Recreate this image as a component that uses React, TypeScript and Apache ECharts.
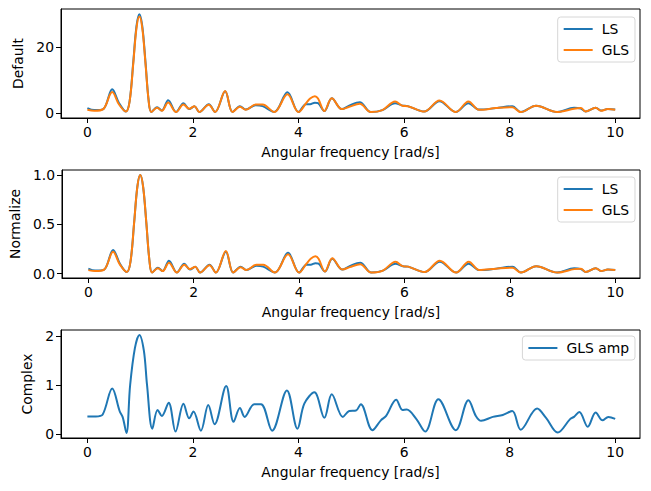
import React, { useEffect, useRef } from "react";
import * as echarts from "echarts";

// Angular frequencies (rad/s) where LS / GLS values were read
const freq = [0.0, 0.13, 0.3, 0.47, 0.6, 0.73, 0.8, 0.87, 0.93, 0.985, 1.04, 1.1, 1.16, 1.21, 1.32, 1.41, 1.53, 1.68, 1.82, 1.93, 2.03, 2.12, 2.3, 2.42, 2.61, 2.75, 2.89, 3.0, 3.19, 3.32, 3.54, 3.79, 4.0, 4.14, 4.22, 4.31, 4.37, 4.49, 4.63, 4.82, 4.96, 5.16, 5.37, 5.59, 5.83, 5.97, 6.07, 6.38, 6.67, 6.98, 7.22, 7.42, 7.74, 8.05, 8.21, 8.5, 8.9, 9.22, 9.35, 9.44, 9.63, 9.73, 9.86, 10.0];

const lsDefault = [1.5, 0.9, 1.2, 7.2, 3.0, 0.45, 3.6, 15.6, 26.4, 30.0, 26.4, 15.6, 3.9, 0.3, 1.8, 0.75, 3.9, 0.3, 3.0, 1.2, 2.1, 0.3, 2.7, 0.3, 6.6, 0.3, 2.1, 1.05, 2.4, 2.1, 0.3, 6.3, 0.3, 2.7, 2.7, 3.15, 3.0, 0.6, 4.5, 1.2, 2.25, 3.3, 0.3, 0.9, 3.0, 2.25, 2.1, 0.45, 3.6, 0.3, 3.0, 1.05, 1.5, 2.1, 0.3, 2.25, 0.3, 1.65, 1.35, 0.45, 1.65, 0.75, 1.2, 1.05];
const glsDefault = [1.0, 0.7, 1.2, 6.4, 2.6, 0.45, 3.5, 15.2, 25.8, 29.3, 25.8, 15.2, 3.8, 0.3, 1.6, 0.7, 3.2, 0.3, 2.6, 1.3, 2.1, 0.3, 2.5, 0.3, 6.7, 0.3, 1.9, 1.0, 2.6, 2.6, 0.3, 5.7, 0.3, 2.9, 4.4, 5.1, 4.4, 0.6, 4.5, 1.2, 1.9, 2.8, 0.3, 0.9, 3.5, 2.2, 2.1, 0.45, 3.8, 0.3, 3.5, 1.0, 1.5, 1.8, 0.3, 2.2, 0.3, 1.3, 1.5, 0.45, 1.6, 0.7, 1.2, 1.0];

const lsNorm = [0.05, 0.03, 0.04, 0.24, 0.1, 0.015, 0.12, 0.52, 0.88, 1.0, 0.88, 0.52, 0.13, 0.01, 0.06, 0.025, 0.13, 0.01, 0.1, 0.04, 0.07, 0.01, 0.09, 0.01, 0.22, 0.01, 0.07, 0.035, 0.08, 0.07, 0.01, 0.21, 0.01, 0.09, 0.09, 0.105, 0.1, 0.02, 0.15, 0.04, 0.075, 0.11, 0.01, 0.03, 0.1, 0.075, 0.07, 0.015, 0.12, 0.01, 0.1, 0.035, 0.05, 0.07, 0.01, 0.075, 0.01, 0.055, 0.045, 0.015, 0.055, 0.025, 0.04, 0.035];
const glsNorm = [0.035, 0.025, 0.04, 0.22, 0.09, 0.015, 0.12, 0.52, 0.88, 1.0, 0.88, 0.52, 0.13, 0.01, 0.055, 0.025, 0.11, 0.01, 0.09, 0.045, 0.07, 0.01, 0.085, 0.01, 0.23, 0.01, 0.065, 0.035, 0.09, 0.09, 0.01, 0.195, 0.01, 0.1, 0.15, 0.175, 0.15, 0.02, 0.155, 0.04, 0.065, 0.095, 0.01, 0.03, 0.12, 0.075, 0.07, 0.015, 0.13, 0.01, 0.12, 0.035, 0.05, 0.06, 0.01, 0.075, 0.01, 0.045, 0.05, 0.015, 0.055, 0.025, 0.04, 0.035];

// Complex GLS amplitude
const ampFreq = [0, 0.16, 0.29, 0.47, 0.61, 0.67, 0.74, 0.81, 0.9, 0.985, 1.07, 1.13, 1.23, 1.33, 1.41, 1.54, 1.67, 1.82, 1.93, 2.01, 2.15, 2.29, 2.41, 2.63, 2.77, 2.89, 2.98, 3.16, 3.29, 3.5, 3.78, 3.98, 4.11, 4.3, 4.49, 4.63, 4.84, 4.96, 5.09, 5.18, 5.4, 5.56, 5.66, 5.85, 5.97, 6.05, 6.23, 6.4, 6.65, 6.98, 7.22, 7.36, 7.46, 7.68, 7.87, 8.05, 8.21, 8.52, 8.69, 8.91, 9.15, 9.22, 9.32, 9.48, 9.63, 9.76, 9.87, 10.0];
const glsAmp = [0.36, 0.36, 0.4, 0.93, 0.47, 0.34, 0.02, 1.0, 1.75, 2.02, 1.7, 1.0, 0.11, 0.49, 0.37, 0.64, 0.05, 0.62, 0.32, 0.46, 0.07, 0.59, 0.2, 0.98, 0.25, 0.53, 0.35, 0.61, 0.61, 0.07, 0.89, 0.11, 0.62, 0.85, 0.33, 0.81, 0.35, 0.47, 0.48, 0.61, 0.08, 0.28, 0.37, 0.7, 0.49, 0.5, 0.31, 0.05, 0.71, 0.08, 0.69, 0.37, 0.27, 0.35, 0.39, 0.47, 0.09, 0.52, 0.33, 0.03, 0.31, 0.35, 0.45, 0.15, 0.44, 0.28, 0.35, 0.31];

const xTicks = [0, 2, 4, 6, 8, 10];
const yTicksDefault = [0, 20];
const yTicksNorm = [0, 0.5, 1.0];
const yTicksComplex = [0, 1, 2];

const C_LS = "#1f77b4";
const C_GLS = "#ff7f0e";
const FONT = "DejaVu Sans";
const FS = 13.9;

function pairs(xs: number[], ys: number[]) {
  return xs.map((x, i) => [x, ys[i]]);
}

export default function App() {
  const ref = useRef<HTMLDivElement>(null);
  useEffect(() => {
    if (!ref.current) return;
    const chart = echarts.init(ref.current, null, { renderer: "svg" });
    const grids = [
      { left: 61, right: 11, top: 9, height: 109 },
      { left: 61, right: 11, top: 170, height: 108 },
      { left: 61, right: 11, top: 330, height: 108 },
    ].map((g) => ({ ...g, show: true, borderColor: "#000", borderWidth: 1, backgroundColor: "transparent", containLabel: false }));

    const xAxis = [0, 1, 2].map((i) => ({
      type: "value",
      gridIndex: i,
      min: -0.5,
      max: 10.47,
      name: "Angular frequency [rad/s]",
      nameLocation: "middle",
      nameGap: 27,
      nameTextStyle: { fontFamily: FONT, fontSize: FS, color: "#000" },
      axisLine: { show: true, onZero: false, lineStyle: { color: "#000", width: 1 } },
      axisTick: { show: true, inside: false, length: 5, customValues: xTicks, lineStyle: { color: "#000" } },
      axisLabel: { show: true, margin: 7, customValues: xTicks, fontFamily: FONT, fontSize: FS, color: "#000", formatter: (v: number) => String(v) },
      splitLine: { show: false },
    }));

    const yCommon = (i: number, min: number, max: number, ticks: number[], name: string, gap: number, fmt: (v: number) => string) => ({
      type: "value",
      gridIndex: i,
      min,
      max,
      name,
      nameLocation: "middle",
      nameRotate: 90,
      nameGap: gap,
      nameTextStyle: { fontFamily: FONT, fontSize: FS, color: "#000" },
      axisLine: { show: true, onZero: false, lineStyle: { color: "#000", width: 1 } },
      axisTick: { show: true, inside: false, length: 5, customValues: ticks, lineStyle: { color: "#000" } },
      axisLabel: { show: true, margin: 7, customValues: ticks, fontFamily: FONT, fontSize: FS, color: "#000", formatter: fmt },
      splitLine: { show: false },
    });

    const yAxis = [
      yCommon(0, -1.5, 31.6, yTicksDefault, "Default", 29, (v) => String(v)),
      yCommon(1, -0.045, 1.05, yTicksNorm, "Normalize", 36, (v) => v.toFixed(1)),
      yCommon(2, -0.08, 2.12, yTicksComplex, "Complex", 22, (v) => String(v)),
    ];

    const line = (name: string, color: string, idx: number, data: number[][]) => ({
      type: "line",
      name,
      xAxisIndex: idx,
      yAxisIndex: idx,
      data,
      smooth: 0.35,
      showSymbol: false,
      symbol: "none",
      lineStyle: { color, width: 2 },
      itemStyle: { color },
      z: 3,
    });

    const legendBase = {
      orient: "vertical",
      right: 16,
      icon: "rect",
      itemWidth: 29,
      itemHeight: 2,
      itemGap: 7,
      padding: [5, 6, 5, 6],
      backgroundColor: "#fff",
      borderColor: "#d6d6d6",
      borderWidth: 1,
      borderRadius: 3,
      textStyle: { fontFamily: FONT, fontSize: FS, color: "#000", padding: [0, 0, 0, 4] },
      selectedMode: false,
    };

    chart.setOption({
      animation: false,
      backgroundColor: "#fff",
      grid: grids,
      xAxis,
      yAxis,
      legend: [
        { ...legendBase, top: 17, data: ["LS", "GLS"] },
        { ...legendBase, top: 177, data: ["LS", "GLS"] },
        { ...legendBase, top: 336, data: ["GLS amp"] },
      ],
      series: [
        line("LS", C_LS, 0, pairs(freq, lsDefault)),
        line("GLS", C_GLS, 0, pairs(freq, glsDefault)),
        line("LS", C_LS, 1, pairs(freq, lsNorm)),
        line("GLS", C_GLS, 1, pairs(freq, glsNorm)),
        line("GLS amp", C_LS, 2, pairs(ampFreq, glsAmp)),
      ],
    });
    return () => chart.dispose();
  }, []);
  return <div ref={ref} style={{ position: "fixed", left: 0, top: 0, width: 651, height: 491, background: "#fff" }} />;
}
